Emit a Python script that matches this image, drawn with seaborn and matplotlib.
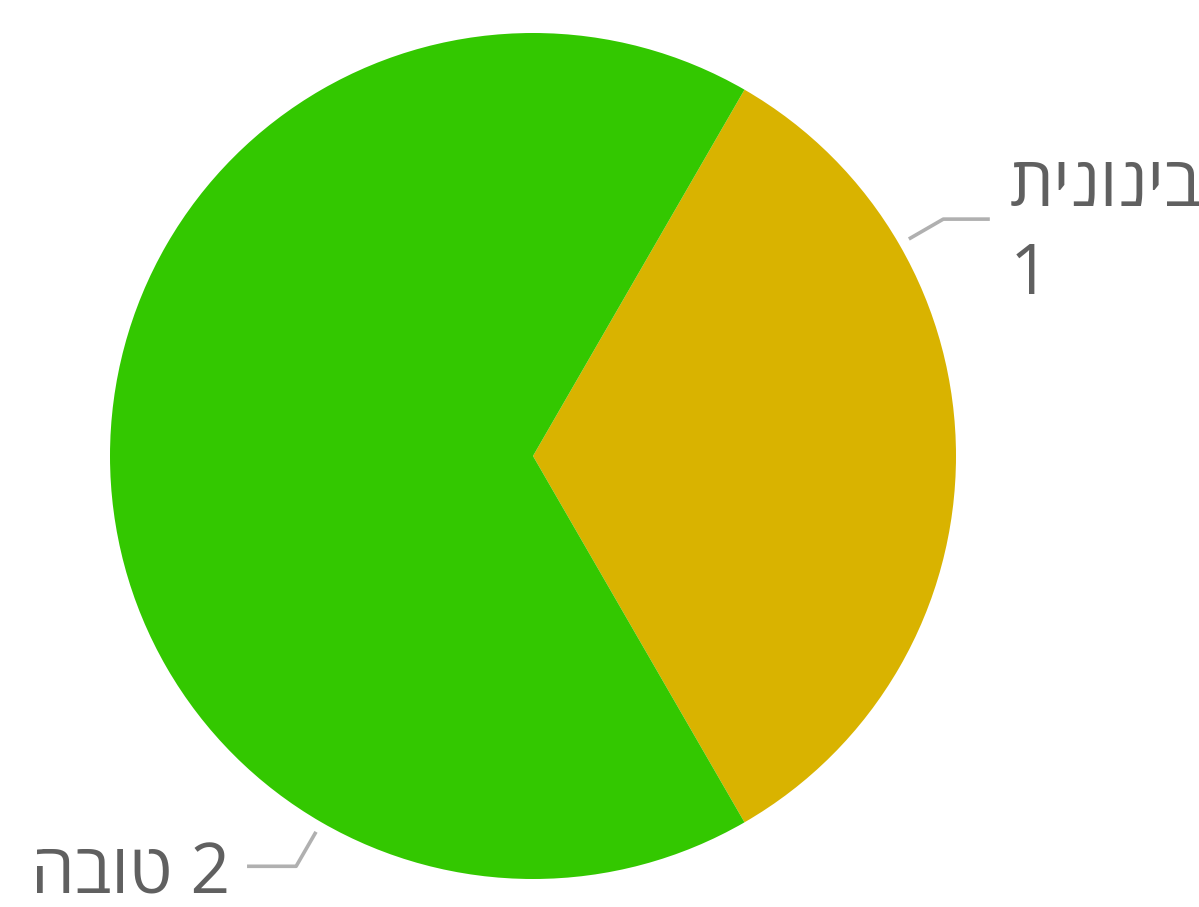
import numpy as np
import pandas as pd
import matplotlib
matplotlib.use("Agg")
import matplotlib.pyplot as plt
import seaborn as sns

# data
labels = ["תינוניב", "הבוט"]   # visual order (matplotlib draws left to right)
values = [1, 2]
colors = ["#d9b300", "#33c800"]
label_angles = [30, 240]

df = pd.DataFrame({"label": labels, "value": values})

sns.set_theme(style="white")
plt.rcParams["font.family"] = ["Open Sans", "Liberation Sans", "DejaVu Sans"]

fig = plt.figure(figsize=(11.99, 9.07), dpi=100)
ax = fig.add_axes([0, 0, 1, 1])
ax.pie(df["value"], colors=colors, startangle=-60, counterclock=True,
       radius=1, wedgeprops=dict(linewidth=0))
ax.set_xlim(-533 / 423, (1199 - 533) / 423)
ax.set_ylim(-(907 - 456) / 423, 456 / 423)
ax.set_aspect("equal")
ax.axis("off")

line_kw = dict(color="#b0b0b0", lw=2.6, solid_capstyle="butt")
text_kw = dict(color="#606060", fontsize=50)

for lab, val, ang in zip(df["label"], df["value"], label_angles):
    a = np.deg2rad(ang)
    x0, y0 = 1.026 * np.cos(a), 1.026 * np.sin(a)
    x1, y1 = 1.12 * np.cos(a), 1.12 * np.sin(a)
    if np.cos(a) >= 0:
        x2 = x1 + 0.11
        ax.plot([x0, x1, x2], [y0, y1, y1], **line_kw)
        ax.text(x2 + 0.047, y1 - 0.03, f"{lab}\n{val}", ha="left", va="center",
                linespacing=1.35, **text_kw)
    else:
        x2 = x1 - 0.116
        ax.plot([x0, x1, x2], [y0, y1, y1], **line_kw)
        ax.text(x2 - 0.04, y1 - 0.022, f"{lab} {val}", ha="right", va="center",
                **text_kw)

fig.savefig("out.png", dpi=100)
